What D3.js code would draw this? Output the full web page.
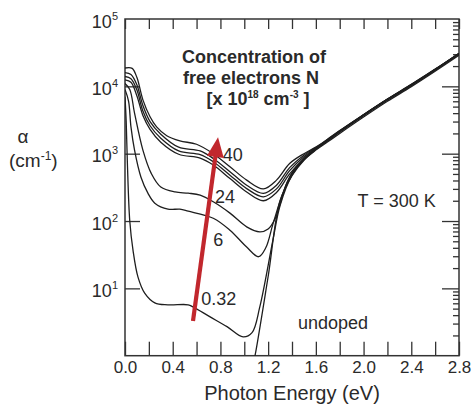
<!DOCTYPE html>
<html>
<head>
<meta charset="utf-8">
<script src="https://cdn.jsdelivr.net/npm/d3@7"></script>
<style>
  body { margin: 0; background: #fff; }
  text { font-family: "Liberation Sans", Arial, Helvetica, sans-serif; fill: #2a2a2a; }
</style>
</head>
<body>
<svg id="chart" width="473" height="408"></svg>
<script>
// ticks
const energyTicks = [0, 0.2, 0.4, 0.6, 0.8, 1.0, 1.2, 1.4, 1.6, 1.8, 2.0, 2.2, 2.4, 2.6, 2.8];
const energyLabels = [0, 0.4, 0.8, 1.2, 1.6, 2.0, 2.4, 2.8];
const decades = [1, 10, 100, 1000, 10000, 100000];
const decadeExponents = [1, 2, 3, 4, 5];

// absorption curves, [photon energy (eV), alpha (cm^-1)]
const n40 = [[0, 18700], [0.06, 18500], [0.1, 13500], [0.15, 6300], [0.21, 3540], [0.265, 2500], [0.35, 1850], [0.46, 1550], [0.6, 1380], [0.74, 1000], [0.88, 640], [1.02, 405], [1.16, 300], [1.27, 405], [1.38, 715], [1.5, 1000], [1.6, 1250], [1.7, 1650], [1.8, 2200], [2.0, 3800], [2.2, 6500], [2.4, 10700], [2.6, 18000], [2.8, 31000]];
const n36 = [[0, 16000], [0.05, 15000], [0.1, 10500], [0.15, 5200], [0.21, 3000], [0.3, 1950], [0.45, 1250], [0.63, 1100], [0.74, 850], [0.88, 540], [1.02, 340], [1.16, 257], [1.27, 340], [1.38, 620], [1.5, 950], [1.6, 1230], [1.7, 1630], [1.8, 2180], [2.0, 3780], [2.2, 6450], [2.4, 10600], [2.6, 17900], [2.8, 30800]];
const n32 = [[0, 14000], [0.05, 13000], [0.1, 8800], [0.15, 4300], [0.21, 2600], [0.3, 1700], [0.45, 1100], [0.63, 970], [0.74, 760], [0.88, 480], [1.02, 303], [1.16, 229], [1.27, 300], [1.38, 560], [1.5, 900], [1.6, 1210], [1.7, 1610], [1.8, 2160], [2.0, 3760], [2.2, 6400], [2.4, 10500], [2.6, 17800], [2.8, 30600]];
const n24 = [[0, 12500], [0.05, 11500], [0.1, 7200], [0.15, 3700], [0.21, 2300], [0.3, 1480], [0.45, 980], [0.63, 860], [0.74, 680], [0.88, 427], [1.02, 270], [1.16, 200], [1.27, 265], [1.38, 500], [1.5, 850], [1.6, 1190], [1.7, 1590], [1.8, 2140], [2.0, 3740], [2.2, 6380], [2.4, 10450], [2.6, 17700], [2.8, 30500]];
const n12 = [[0, 11000], [0.04, 9000], [0.08, 4000], [0.15, 1130], [0.22, 510], [0.3, 320], [0.42, 270], [0.53, 259], [0.63, 242], [0.74, 193], [0.88, 131], [1.02, 82], [1.13, 69], [1.2, 76], [1.26, 110], [1.36, 380], [1.44, 640], [1.5, 830], [1.6, 1170], [1.7, 1580], [1.8, 2120], [2.0, 3720], [2.2, 6350], [2.4, 10400], [2.6, 17600], [2.8, 30400]];
const n6 = [[0, 9000], [0.03, 6000], [0.05, 2500], [0.08, 1130], [0.134, 447], [0.193, 257], [0.25, 184], [0.36, 150], [0.46, 150], [0.53, 140], [0.74, 110], [0.88, 73], [1.02, 41], [1.12, 29.5], [1.18, 40], [1.24, 90], [1.32, 250], [1.4, 520], [1.5, 820], [1.6, 1160], [1.7, 1570], [1.8, 2110], [2.0, 3700], [2.2, 6320], [2.4, 10350], [2.6, 17500], [2.8, 30300]];
const n032 = [[0, 7000], [0.01, 3000], [0.02, 720], [0.04, 100], [0.067, 37], [0.109, 14.7], [0.165, 8.5], [0.25, 6.1], [0.36, 5.7], [0.53, 5.7], [0.57, 5.3], [0.71, 3.8], [0.855, 2.7], [0.99, 1.9], [1.065, 2.2], [1.13, 5.3], [1.24, 52], [1.3, 170], [1.4, 480], [1.5, 810], [1.6, 1150], [1.7, 1560], [1.8, 2100], [2.0, 3690], [2.2, 6300], [2.4, 10300], [2.6, 17400], [2.8, 30200]];
const undoped = [[1.07, 0.7], [1.09, 1.0], [1.2, 15], [1.3, 200], [1.4, 470], [1.5, 800], [1.6, 1130], [1.7, 1500], [1.8, 2000], [2.0, 3500], [2.2, 6000], [2.4, 9900], [2.6, 16800], [2.8, 29000]];
const curves = [n40, n36, n32, n24, n12, n6, n032, undoped];

// labels placed in data coordinates: [text, energy, alpha]
const curveLabels = [["40", 0.82, 776], ["24", 0.755, 184], ["6", 0.74, 42.5], ["0.32", 0.64, 5.65], ["undoped", 1.45, 2.49], ["T = 300 K", 1.95, 161]];
const arrowFrom = [0.57, 3.27];
const arrowTo = [0.78, 1760];

const svg = d3.select("#chart");
const padLeft = 125, padRight = 459, padTop = 19, padBottom = 355.7;

const x = d3.scaleLinear().domain([0, 2.8]).range([padLeft, padRight]);
const y = d3.scaleLog().domain([1, 1e5]).range([padBottom, padTop]);

const axisColor = "#333";

// clip
svg.append("clipPath").attr("id", "clip")
    .append("rect").attr("x", padLeft).attr("y", padTop)
    .attr("width", padRight - padLeft).attr("height", padBottom - padTop);

// axes with inward ticks
const gBottom = svg.append("g").attr("transform", `translate(0,${padBottom})`)
    .call(d3.axisBottom(x).tickValues(energyTicks).tickSize(-14).tickPadding(5)
        .tickFormat(d => energyLabels.some(v => Math.abs(v - d) < 1e-6) ? d3.format(".1f")(d) : ""));
const gTop = svg.append("g").attr("transform", `translate(0,${padTop})`)
    .call(d3.axisTop(x).tickValues(energyTicks).tickSize(-10).tickFormat(""));
const gLeft = svg.append("g").attr("transform", `translate(${padLeft},0)`)
    .call(d3.axisLeft(y).tickValues(decades.slice(1, 5)).tickSize(-15).tickFormat(""));

const minorVals = [];
decades.slice(0, 5).forEach(d => { for (let k = 2; k <= 9; k++) minorVals.push(d * k); });
const gRightMinor = svg.append("g").attr("transform", `translate(${padRight},0)`)
    .call(d3.axisRight(y).tickValues(minorVals).tickSize(-6).tickFormat(""));
const gRight = svg.append("g").attr("transform", `translate(${padRight},0)`)
    .call(d3.axisRight(y).tickValues(decades.slice(1, 5)).tickSize(-17).tickFormat(""));

[gBottom, gTop, gLeft, gRight, gRightMinor].forEach(g => {
    g.select(".domain").remove();
    g.selectAll("line").attr("stroke", axisColor).attr("stroke-width", 1.3);
});
gBottom.selectAll("text").attr("font-size", 17).attr("fill", "#2a2a2a")
    .style("font-family", "'Liberation Sans', Arial, sans-serif");

svg.append("rect")
    .attr("x", padLeft).attr("y", padTop).attr("width", padRight - padLeft).attr("height", padBottom - padTop)
    .attr("fill", "none").attr("stroke", axisColor).attr("stroke-width", 1.5);

// y tick labels 10^n
decadeExponents.forEach(e => {
    const t = svg.append("text")
        .attr("x", 118).attr("y", y(Math.pow(10, e)) + 8.5)
        .attr("text-anchor", "end").attr("font-size", 18);
    t.append("tspan").text("10");
    t.append("tspan").attr("dy", -8).attr("font-size", 11).text(e);
});

// curves
const line = d3.line()
    .x(d => x(d[0]))
    .y(d => y(d[1]))
    .curve(d3.curveCatmullRom.alpha(0.5));

svg.append("g").attr("clip-path", "url(#clip)")
    .selectAll("path")
    .data(curves)
    .enter().append("path")
    .attr("d", line)
    .attr("fill", "none")
    .attr("stroke", "#1e1e1e")
    .attr("stroke-width", 1.3);

// curve labels
svg.selectAll("text.lbl")
    .data(curveLabels)
    .enter().append("text")
    .attr("class", "lbl")
    .attr("x", d => x(d[1]))
    .attr("y", d => y(d[2]))
    .attr("font-size", 18)
    .text(d => d[0]);

// red arrow
const p0 = [x(arrowFrom[0]), y(arrowFrom[1])];
const p1 = [x(arrowTo[0]), y(arrowTo[1])];
const dx = p1[0] - p0[0], dy = p1[1] - p0[1];
const len = Math.hypot(dx, dy);
const ux = dx / len, uy = dy / len;
const headLen = 20, headHalf = 8.5;
const base = [p1[0] - ux * headLen, p1[1] - uy * headLen];
svg.append("line")
    .attr("x1", p0[0]).attr("y1", p0[1])
    .attr("x2", base[0] + ux * 2).attr("y2", base[1] + uy * 2)
    .attr("stroke", "#c1272d").attr("stroke-width", 4.2);
svg.append("path")
    .attr("d", `M${p1[0]},${p1[1]} L${base[0] - uy * headHalf},${base[1] + ux * headHalf} L${base[0] + uy * headHalf},${base[1] - ux * headHalf} Z`)
    .attr("fill", "#c1272d");

// concentration title
const title = svg.append("g").attr("font-weight", "bold").attr("font-size", 18).attr("text-anchor", "middle");
title.append("text").attr("x", 254).attr("y", 63).attr("font-weight", "bold").text("Concentration of");
title.append("text").attr("x", 251).attr("y", 84).attr("font-weight", "bold").text("free electrons N");
const t3 = title.append("text").attr("x", 258).attr("y", 105).attr("font-weight", "bold");
t3.append("tspan").text("[x 10");
t3.append("tspan").attr("dy", -7).attr("font-size", 10).text("18");
t3.append("tspan").attr("dy", 7).text(" cm");
t3.append("tspan").attr("dy", -7).attr("font-size", 10).text("-3");
t3.append("tspan").attr("dy", 7).text(" ]");

// axis titles
svg.append("text").attr("x", 292).attr("y", 400).attr("text-anchor", "middle")
    .attr("font-size", 20).text("Photon Energy (eV)");
svg.append("text").attr("x", 23).attr("y", 143).attr("text-anchor", "middle")
    .attr("font-size", 19).text("α");
const yl = svg.append("text").attr("x", 9).attr("y", 167).attr("font-size", 19);
yl.append("tspan").text("(cm");
yl.append("tspan").attr("dy", -7).attr("font-size", 12).text("-1");
yl.append("tspan").attr("dy", 7).text(")");
</script>
</body>
</html>
